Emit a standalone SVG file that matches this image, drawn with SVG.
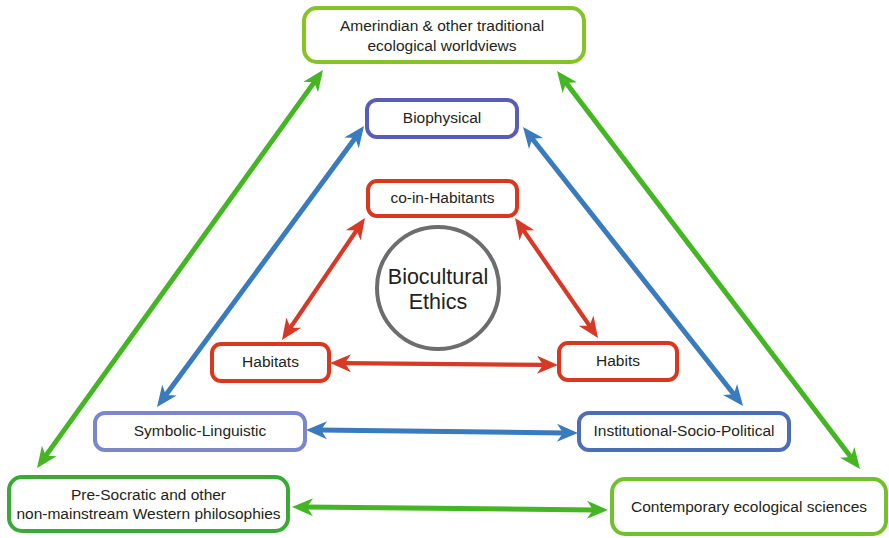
<svg xmlns="http://www.w3.org/2000/svg" width="889" height="538" viewBox="0 0 889 538">
<defs>
<style>
text{font-family:"Liberation Sans",Arial,sans-serif;font-size:15.5px;fill:#231f20;text-anchor:middle}
.box{fill:#fff;stroke-width:4}
.g1{stroke:#84c425}.g2{stroke:#3aa935}.g3{stroke:#73c12a}
.b1{stroke:#5a5db5}.b2{stroke:#7b87c8}.b3{stroke:#4d6db5}
.r{stroke:#d9371f}
.lg{stroke:#44b523;stroke-width:5;fill:none;marker-start:url(#mg);marker-end:url(#mg)}
.lb{stroke:#3a7bbd;stroke-width:5;fill:none;marker-start:url(#mb);marker-end:url(#mb)}
.lr{stroke:#d63a26;stroke-width:4.2;fill:none;marker-start:url(#mr);marker-end:url(#mr)}
</style>
<marker id="mg" viewBox="-22 -10 23 20" refX="-13" refY="0" markerWidth="23" markerHeight="20" markerUnits="userSpaceOnUse" orient="auto-start-reverse"><path d="M0,0 L-21,-9 L-15,0 L-21,9 Z" fill="#44b523"/></marker>
<marker id="mb" viewBox="-22 -10 23 20" refX="-13" refY="0" markerWidth="23" markerHeight="20" markerUnits="userSpaceOnUse" orient="auto-start-reverse"><path d="M0,0 L-21,-9 L-15,0 L-21,9 Z" fill="#3a7bbd"/></marker>
<marker id="mr" viewBox="-22 -10 23 20" refX="-13" refY="0" markerWidth="23" markerHeight="20" markerUnits="userSpaceOnUse" orient="auto-start-reverse"><path d="M0,0 L-21,-9 L-15,0 L-21,9 Z" fill="#d63a26"/></marker>
</defs>
<rect width="889" height="538" fill="#fff"/>
<g id="connectors">
<line class="lg" x1="315.4" y1="80.6" x2="44.6" y2="457.4"/>
<line class="lg" x1="564.9" y1="81.3" x2="852.1" y2="458.7"/>
<line class="lg" x1="305" y1="507.1" x2="595" y2="509.9"/>
<line class="lb" x1="356.3" y1="136.5" x2="164.7" y2="396.5"/>
<line class="lb" x1="531.1" y1="137.2" x2="735.0" y2="395.8"/>
<line class="lb" x1="319" y1="430.1" x2="565" y2="432.9"/>
<line class="lr" x1="357.7" y1="228.7" x2="289.3" y2="329.3"/>
<line class="lr" x1="522.4" y1="228.7" x2="590.6" y2="327.3"/>
<line class="lr" x1="343" y1="363.1" x2="545" y2="364.9"/>
</g>
<g id="amerindian"><rect class="box g1" x="304" y="8" width="280" height="54" rx="13"/><text x="442" y="31">Amerindian &amp; other traditional</text><text x="442" y="51">ecological worldviews</text></g>
<g id="biophysical"><rect class="box b1" x="367" y="100" width="150" height="37" rx="10"/><text x="442" y="123">Biophysical</text></g>
<g id="coinhabitants"><rect class="box r" x="368" y="181" width="149" height="35" rx="9"/><text x="442.5" y="203">co-in-Habitants</text></g>
<g id="ethics"><circle cx="438" cy="288" r="61" fill="#fff" stroke="#6d6d6d" stroke-width="4"/><text x="438" y="284" style="font-size:21.5px">Biocultural</text><text x="438" y="309" style="font-size:21.5px">Ethics</text></g>
<g id="habitats"><rect class="box r" x="212" y="344" width="117" height="37" rx="9"/><text x="270.5" y="367">Habitats</text></g>
<g id="habits"><rect class="box r" x="559" y="343" width="118" height="37" rx="9"/><text x="618" y="366">Habits</text></g>
<g id="symbolic"><rect class="box b2" x="95" y="413" width="210" height="37" rx="10"/><text x="200" y="436">Symbolic-Linguistic</text></g>
<g id="institutional"><rect class="box b3" x="579" y="413" width="210" height="37" rx="10"/><text x="684" y="436">Institutional-Socio-Political</text></g>
<g id="presocratic"><rect class="box g2" x="9" y="477" width="279" height="54" rx="13"/><text x="148.5" y="500">Pre-Socratic and other</text><text x="148.5" y="519">non-mainstream Western philosophies</text></g>
<g id="contemporary"><rect class="box g3" x="612" y="479" width="274" height="55" rx="13"/><text x="749" y="512">Contemporary ecological sciences</text></g>
</svg>
